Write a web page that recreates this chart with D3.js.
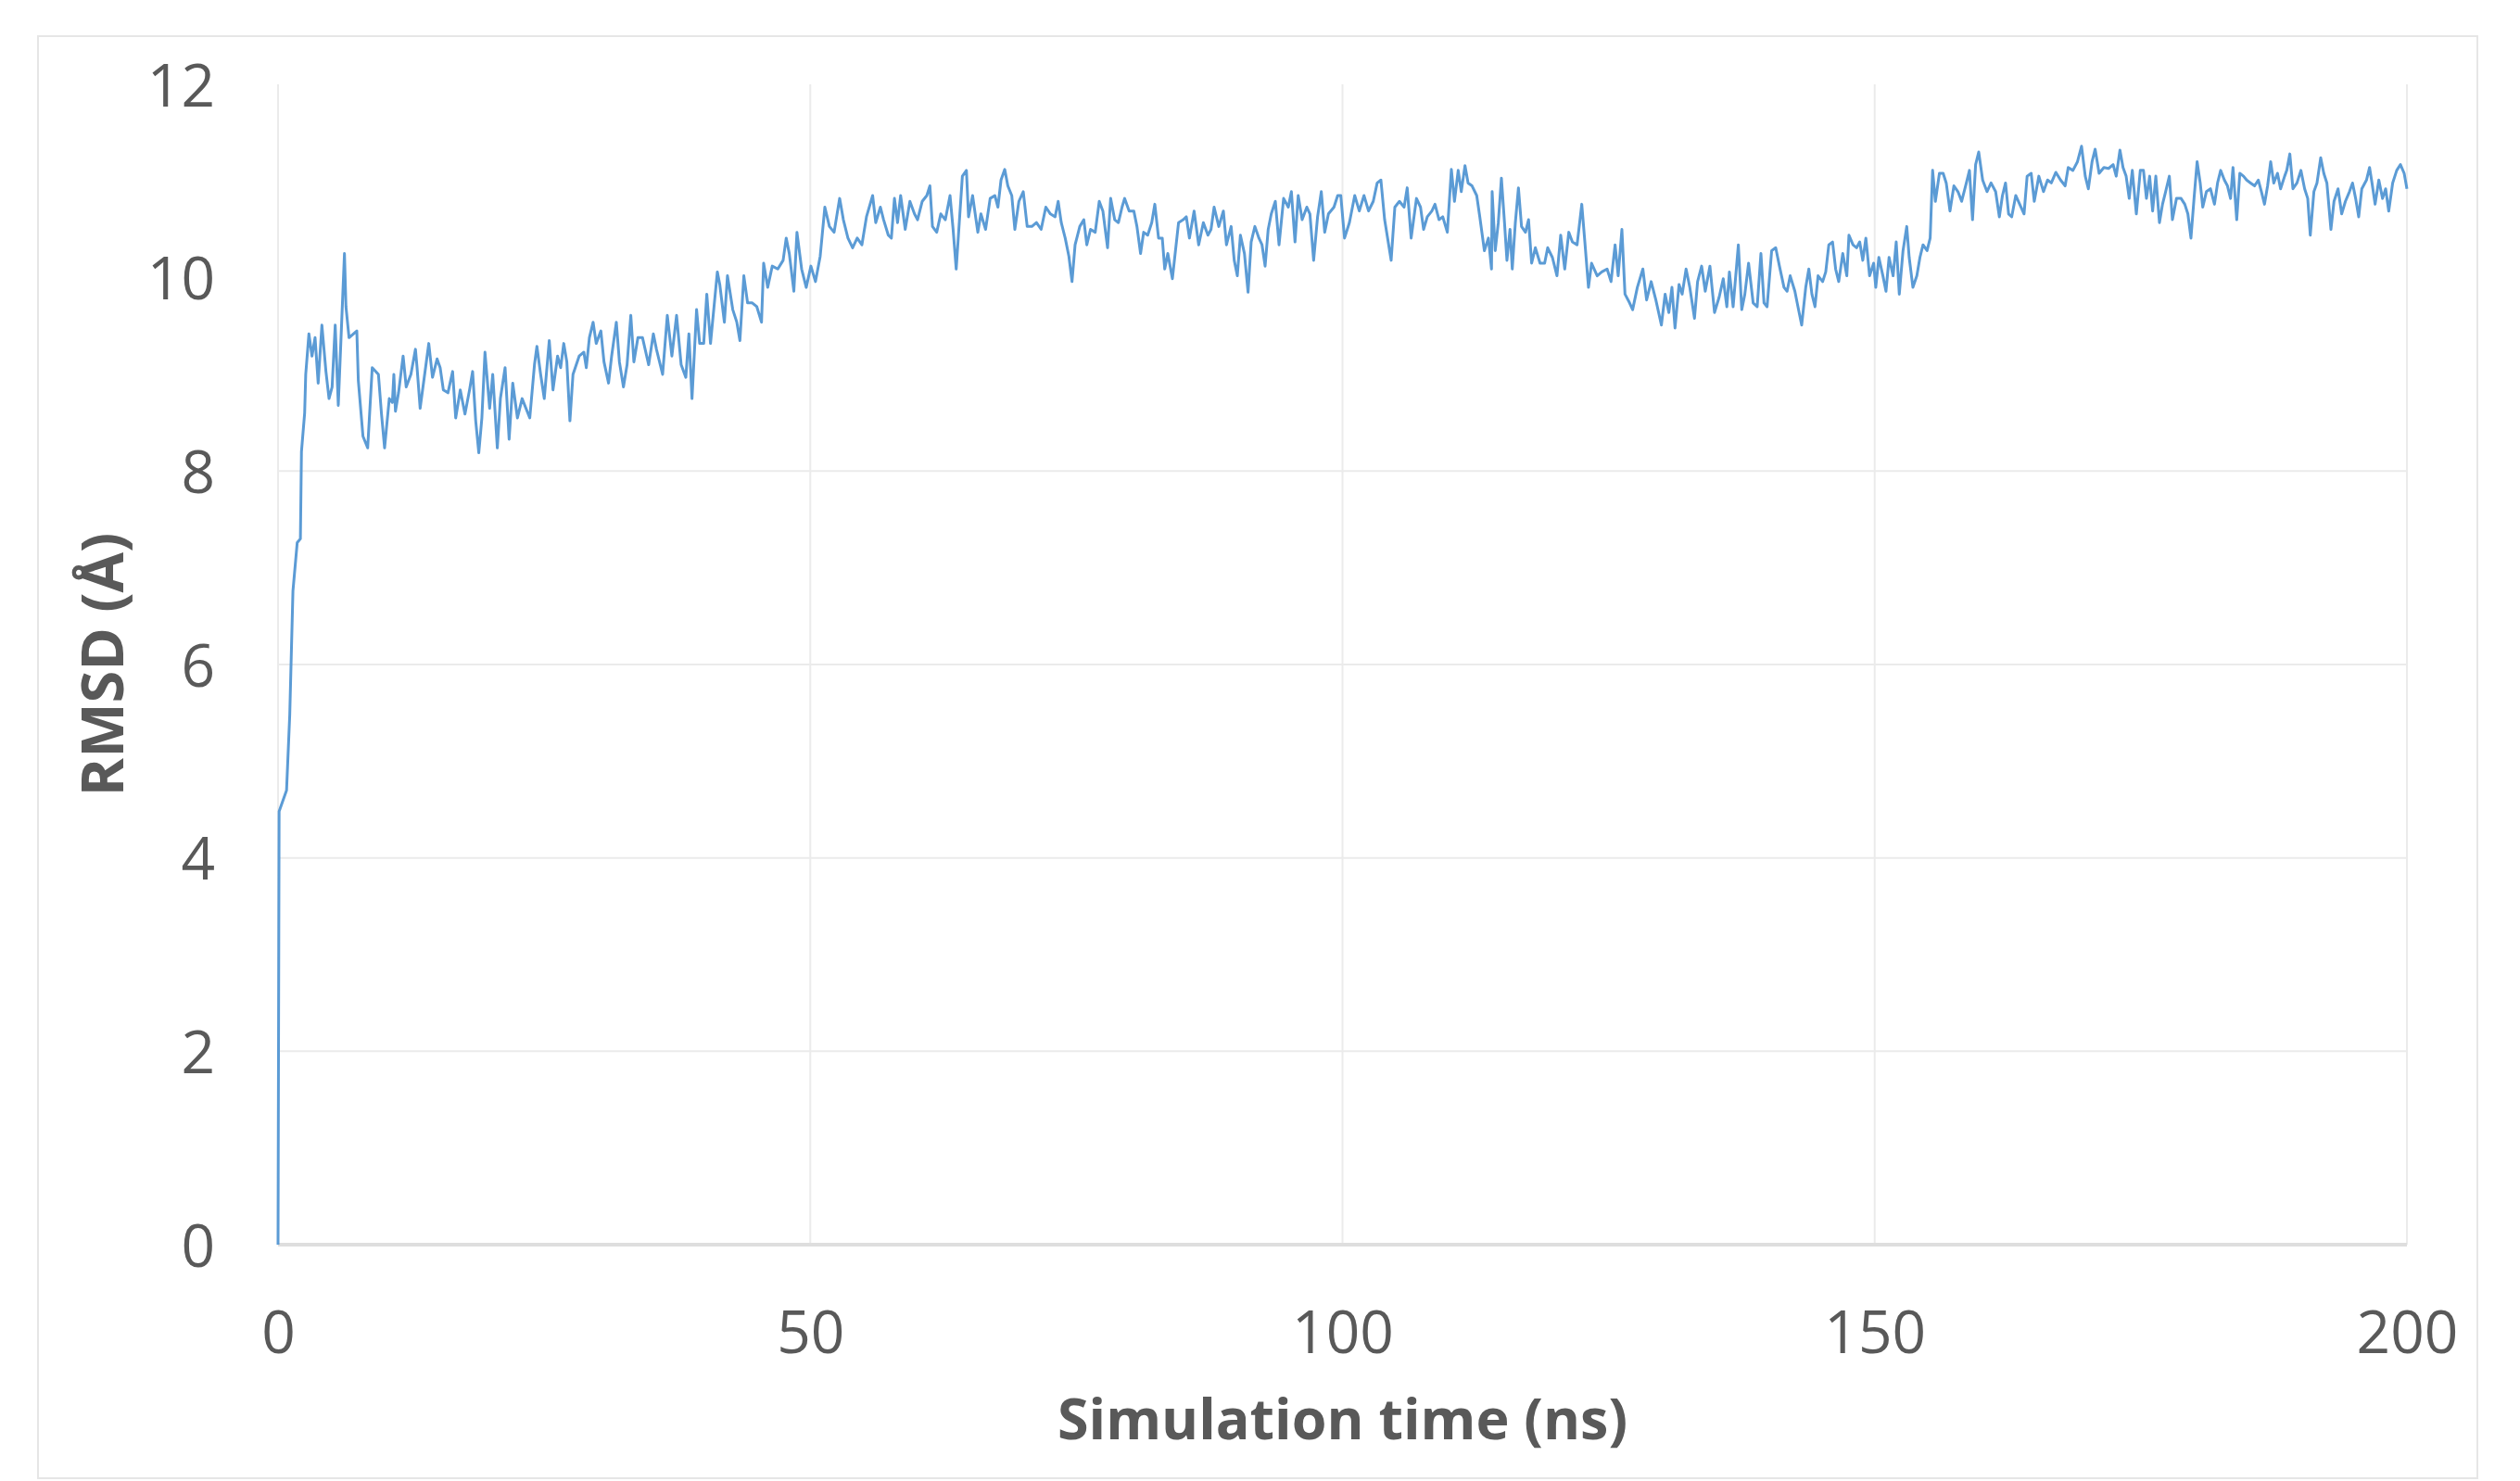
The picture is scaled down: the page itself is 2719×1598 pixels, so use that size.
<!DOCTYPE html>
<html>
<head>
<meta charset="utf-8">
<script src="https://cdn.jsdelivr.net/npm/d3@7"></script>
<style>
  body { margin: 0; background: #fff; }
  svg { display: block; }
  text { font-family: "Open Sans", sans-serif; fill: #595959; }
</style>
</head>
<body>
<div id="chart"></div>
<script>
// axis setup
const xTicks = [0, 50, 100, 150, 200];
const yTicks = [0, 2, 4, 6, 8, 10, 12];
const yGridTicks = [2, 4, 6, 8];   // the reference shows no gridline at 10 and 12
const xTitle = "Simulation time (ns)";
const yTitle = "RMSD (Å)";

// RMSD trace, [time ns, RMSD Å] in chunks
const rmsd0to29 = [[0,0],[0.1,4.48],[0.8,4.7],[1.1,5.48],[1.2,5.91],[1.4,6.76],[1.8,7.26],[2.1,7.3],[2.2,8.2],[2.5,8.6],[2.6,9.0],
  [2.9,9.42],[3.19,9.19],[3.48,9.38],[3.77,8.91],[4.12,9.51],[4.5,9.03],[4.79,8.75],[5.08,8.87],[5.37,9.51],[5.66,8.68],[6.24,10.25],[6.38,9.7],[6.67,9.38],[7.4,9.45],[7.54,8.94],[7.98,8.36],[8.42,8.24],[8.85,9.07],[9.43,9.0],[9.72,8.59],[10.01,8.24],[10.45,8.75],[10.74,8.71],[10.88,9.0],[11.03,8.62],[11.32,8.81],[11.75,9.19],[12.04,8.87],[12.48,9.0],[12.91,9.26],[13.06,9.07],[13.35,8.65],[13.93,9.13],[14.16,9.32],[14.51,8.97],[14.94,9.16],[15.23,9.07],[15.53,8.84],[15.96,8.81],[16.4,9.03],[16.69,8.55],[17.12,8.84],[17.56,8.59],[17.99,8.84],[18.28,9.03],[18.57,8.52],[18.86,8.19],[19.15,8.55],[19.44,9.23],[19.88,8.65],[20.17,9.0],[20.6,8.24],[20.89,8.75],[21.33,9.07],[21.71,8.33],[22.05,8.91],[22.49,8.55],[22.93,8.75],[23.65,8.55],[24.09,9.1],[24.32,9.29],[24.67,9.0],[25.01,8.75],[25.48,9.35],[25.83,8.84],[26.26,9.19],[26.55,9.07],[26.84,9.32],[27.13,9.13],[27.42,8.52],[27.71,9.0],[28.29,9.19],[28.73,9.23]];

const rmsd29to57 = [[28.96,9.07],[29.25,9.38],[29.6,9.54],[29.89,9.32],[30.33,9.45],[30.62,9.13],[31.05,8.91],[31.34,9.19],[31.78,9.54],[32.07,9.13],[32.45,8.87],[32.79,9.1],[33.14,9.61],[33.43,9.13],[33.81,9.38],[34.24,9.38],[34.82,9.1],[35.26,9.42],[35.55,9.26],[36.13,9.0],[36.57,9.61],[37.0,9.19],[37.44,9.61],[37.87,9.1],[38.31,8.97],[38.6,9.42],[38.89,8.75],[39.32,9.67],[39.61,9.32],[39.99,9.32],[40.28,9.83],[40.63,9.32],[41.27,10.06],[41.5,9.93],[41.93,9.54],[42.22,10.02],[42.72,9.67],[43.1,9.54],[43.39,9.35],[43.76,10.02],[44.11,9.74],[44.55,9.74],[44.98,9.7],[45.42,9.54],[45.62,10.15],[46.0,9.9],[46.43,10.12],[46.95,10.09],[47.45,10.18],[47.74,10.41],[48.03,10.25],[48.46,9.86],[48.75,10.47],[49.19,10.09],[49.62,9.9],[50.06,10.12],[50.49,9.96],[50.93,10.22],[51.37,10.73],[51.8,10.53],[52.24,10.47],[52.76,10.82],[53.11,10.6],[53.54,10.41],[53.98,10.31],[54.41,10.41],[54.85,10.34],[55.28,10.63],[55.86,10.85],[56.15,10.57],[56.59,10.73]];

const rmsd57to85 = [[56.89,10.6],[57.33,10.44],[57.62,10.41],[57.91,10.82],[58.2,10.57],[58.49,10.85],[58.92,10.5],[59.36,10.79],[59.79,10.66],[60.08,10.6],[60.52,10.79],[60.95,10.85],[61.24,10.95],[61.48,10.53],[61.88,10.47],[62.26,10.66],[62.69,10.6],[63.13,10.85],[63.42,10.5],[63.71,10.09],[64.0,10.57],[64.29,11.05],[64.67,11.11],[64.87,10.63],[65.25,10.85],[65.74,10.47],[66.03,10.66],[66.47,10.5],[66.9,10.82],[67.34,10.85],[67.63,10.73],[67.92,11.01],[68.27,11.12],[68.56,10.95],[68.93,10.85],[69.22,10.5],[69.6,10.79],[70.01,10.89],[70.38,10.53],[70.82,10.53],[71.25,10.57],[71.69,10.5],[72.13,10.73],[72.56,10.66],[73.0,10.63],[73.29,10.79],[73.58,10.57],[73.95,10.41],[74.3,10.22],[74.59,9.96],[74.88,10.34],[75.32,10.53],[75.7,10.6],[75.98,10.34],[76.33,10.5],[76.77,10.47],[77.15,10.79],[77.49,10.69],[77.93,10.31],[78.22,10.82],[78.6,10.6],[78.95,10.57],[79.29,10.73],[79.53,10.82],[79.96,10.69],[80.4,10.69],[80.69,10.53],[81.03,10.25],[81.32,10.47],[81.7,10.44],[82.08,10.57],[82.37,10.76],[82.72,10.41],[83.07,10.41],[83.3,10.09],[83.59,10.25],[84.02,9.99],[84.31,10.28],[84.6,10.57],[85.04,10.6]];

const rmsd85to114 = [[85.33,10.63],[85.62,10.41],[86.06,10.69],[86.49,10.34],[86.93,10.57],[87.36,10.44],[87.65,10.5],[87.94,10.73],[88.38,10.53],[88.81,10.69],[89.1,10.34],[89.54,10.53],[89.83,10.18],[90.12,10.02],[90.41,10.44],[90.79,10.25],[91.13,9.85],[91.42,10.37],[91.77,10.53],[92.15,10.41],[92.44,10.34],[92.73,10.12],[93.02,10.5],[93.31,10.66],[93.69,10.79],[94.04,10.34],[94.47,10.82],[94.91,10.73],[95.2,10.89],[95.54,10.37],[95.84,10.85],[96.21,10.6],[96.65,10.73],[96.94,10.66],[97.29,10.18],[97.66,10.63],[98.01,10.89],[98.33,10.47],[98.68,10.66],[99.2,10.73],[99.55,10.85],[99.84,10.85],[100.19,10.41],[100.65,10.57],[101.15,10.85],[101.58,10.69],[102.02,10.85],[102.45,10.69],[102.89,10.79],[103.26,10.98],[103.61,11.01],[103.96,10.6],[104.34,10.34],[104.57,10.18],[104.92,10.73],[105.35,10.79],[105.79,10.73],[106.08,10.93],[106.45,10.41],[106.95,10.82],[107.33,10.73],[107.62,10.5],[107.97,10.63],[108.4,10.69],[108.69,10.76],[109.07,10.6],[109.42,10.63],[109.85,10.47],[110.23,11.12],[110.52,10.79],[110.87,11.11],[111.16,10.89],[111.51,11.16],[111.8,10.98],[112.17,10.95],[112.61,10.85],[112.9,10.63],[113.33,10.28],[113.71,10.41],[114.0,10.09]];

const rmsd114to143 = [[114.06,10.89],[114.35,10.28],[114.64,10.57],[114.93,11.03],[115.22,10.57],[115.45,10.18],[115.74,10.5],[115.95,10.09],[116.24,10.57],[116.53,10.93],[116.82,10.53],[117.19,10.47],[117.48,10.6],[117.77,10.15],[118.12,10.31],[118.56,10.15],[118.99,10.15],[119.28,10.31],[119.72,10.21],[120.15,10.02],[120.5,10.44],[120.88,10.09],[121.26,10.47],[121.6,10.37],[122.04,10.34],[122.48,10.76],[122.77,10.37],[123.11,9.9],[123.4,10.15],[123.93,10.02],[124.36,10.06],[124.86,10.09],[125.23,9.96],[125.61,10.34],[125.9,10.02],[126.25,10.5],[126.54,9.83],[126.97,9.74],[127.26,9.67],[127.7,9.9],[128.22,10.09],[128.57,9.77],[129.0,9.96],[129.44,9.77],[129.96,9.51],[130.31,9.83],[130.66,9.64],[130.95,9.9],[131.24,9.48],[131.62,9.93],[131.91,9.83],[132.28,10.09],[132.63,9.9],[133.07,9.58],[133.36,9.96],[133.74,10.12],[134.08,9.86],[134.52,10.12],[134.95,9.64],[135.39,9.8],[135.77,9.99],[136.11,9.7],[136.35,10.06],[136.7,9.7],[137.19,10.34],[137.51,9.67],[137.8,9.83],[138.15,10.15],[138.58,9.74],[138.96,9.7],[139.31,10.25],[139.6,9.74],[139.89,9.7],[140.32,10.28],[140.7,10.31],[141.05,10.12],[141.48,9.9],[141.77,9.86],[142.06,10.02],[142.5,9.86]];

const rmsd143to171 = [[142.79,9.7],[143.14,9.51],[143.52,9.9],[143.81,10.09],[144.1,9.83],[144.39,9.7],[144.68,10.02],[145.11,9.96],[145.4,10.06],[145.69,10.34],[146.04,10.37],[146.33,10.09],[146.62,9.96],[147.0,10.25],[147.38,10.02],[147.58,10.44],[147.96,10.34],[148.3,10.31],[148.59,10.37],[148.88,10.18],[149.17,10.41],[149.52,10.02],[149.9,10.15],[150.1,9.9],[150.39,10.21],[150.77,10.02],[151.06,9.86],[151.35,10.21],[151.73,10.02],[152.02,10.37],[152.31,9.83],[152.66,10.28],[153.01,10.53],[153.24,10.21],[153.59,9.9],[153.96,10.02],[154.25,10.21],[154.54,10.34],[154.92,10.28],[155.21,10.41],[155.44,11.11],[155.7,10.79],[156.08,11.08],[156.43,11.08],[156.72,10.98],[157.07,10.69],[157.44,10.95],[157.82,10.89],[158.17,10.79],[158.61,10.98],[158.9,11.11],[159.19,10.6],[159.48,11.17],[159.77,11.3],[160.14,11.01],[160.55,10.89],[160.93,10.98],[161.36,10.89],[161.71,10.63],[162.0,10.85],[162.29,10.98],[162.58,10.66],[162.87,10.63],[163.25,10.85],[163.62,10.76],[164.03,10.66],[164.32,11.05],[164.7,11.08],[164.99,10.79],[165.42,11.05],[165.86,10.89],[166.24,11.01],[166.59,10.98],[167.02,11.09],[167.46,11.01],[167.89,10.95],[168.18,11.14],[168.62,11.11],[169.05,11.2],[169.43,11.36],[169.78,11.05],[170.07,10.92],[170.42,11.2],[170.71,11.33],[171.08,11.08]];

const rmsd171to200 = [[171.53,11.14],[171.97,11.13],[172.4,11.17],[172.69,11.05],[173.04,11.32],[173.33,11.14],[173.62,11.05],[173.91,10.82],[174.2,11.11],[174.58,10.66],[174.95,11.11],[175.25,11.11],[175.53,10.82],[175.83,11.05],[176.11,10.69],[176.41,11.05],[176.75,10.57],[177.04,10.76],[177.33,10.89],[177.68,11.05],[177.97,10.6],[178.35,10.82],[178.78,10.82],[179.13,10.76],[179.42,10.66],[179.71,10.41],[180.0,10.82],[180.29,11.2],[180.58,10.98],[180.82,10.73],[181.16,10.89],[181.54,10.92],[181.92,10.76],[182.21,10.98],[182.5,11.11],[182.85,11.01],[183.14,10.95],[183.43,10.82],[183.66,11.14],[184.01,10.6],[184.3,11.08],[184.65,11.05],[184.94,11.01],[185.31,10.98],[185.69,10.95],[186.04,11.01],[186.33,10.89],[186.62,10.76],[186.91,10.95],[187.2,11.2],[187.49,10.98],[187.84,11.08],[188.13,10.92],[188.51,11.05],[188.71,11.11],[189.0,11.28],[189.29,10.92],[189.67,10.98],[190.04,11.11],[190.39,10.92],[190.68,10.82],[190.92,10.44],[191.26,10.89],[191.55,10.98],[191.9,11.24],[192.19,11.08],[192.48,10.98],[192.86,10.5],[193.15,10.79],[193.53,10.92],[193.87,10.66],[194.22,10.79],[194.6,10.89],[194.89,10.98],[195.18,10.82],[195.47,10.63],[195.76,10.92],[196.2,11.01],[196.49,11.14],[196.72,10.98],[197.01,10.76],[197.36,11.01],[197.71,10.82],[198.0,10.92],[198.29,10.69],[198.66,10.98],[199.04,11.11],[199.39,11.17],[199.74,11.08],[200.0,10.92]];

const rmsd = [].concat(rmsd0to29, rmsd29to57, rmsd57to85, rmsd85to114,
                       rmsd114to143, rmsd143to171, rmsd171to200);

const width = 2719;
const height = 1598;
const margin = { top: 91, right: 122, bottom: 255, left: 300 };

const svg = d3.select("#chart").append("svg")
    .attr("width", width)
    .attr("height", height);

// light outer frame
svg.append("rect")
    .attr("x", 41).attr("y", 39)
    .attr("width", 2632).attr("height", 1556)
    .attr("fill", "#fff")
    .attr("stroke", "#e6e6e6")
    .attr("stroke-width", 2);

const x = d3.scaleLinear().domain([0, 200]).range([margin.left, width - margin.right]);
const y = d3.scaleLinear().domain([0, 12]).range([height - margin.bottom, margin.top]);

// gridlines
svg.append("g").selectAll("line.vgrid")
    .data(xTicks)
    .join("line")
    .attr("class", "vgrid")
    .attr("x1", d => x(d)).attr("x2", d => x(d))
    .attr("y1", y(12)).attr("y2", y(0))
    .attr("stroke", "#ebebeb")
    .attr("stroke-width", 2);

svg.append("g").selectAll("line.hgrid")
    .data(yGridTicks)
    .join("line")
    .attr("class", "hgrid")
    .attr("x1", x(0)).attr("x2", x(200))
    .attr("y1", d => y(d)).attr("y2", d => y(d))
    .attr("stroke", "#ebebeb")
    .attr("stroke-width", 2);

// bottom axis line
svg.append("line")
    .attr("x1", x(0)).attr("x2", x(200))
    .attr("y1", y(0)).attr("y2", y(0))
    .attr("stroke", "#dedede")
    .attr("stroke-width", 4);

// data line
const line = d3.line()
    .x(d => x(d[0]))
    .y(d => y(d[1]));

svg.append("path")
    .datum(rmsd)
    .attr("fill", "none")
    .attr("stroke", "#5b9bd5")
    .attr("stroke-width", 3)
    .attr("stroke-linejoin", "round")
    .attr("d", line);

// axes (labels only)
const xAxis = svg.append("g")
    .attr("transform", `translate(0,${y(0)})`)
    .call(d3.axisBottom(x).tickValues(xTicks).tickSize(0).tickPadding(72));

const yAxis = svg.append("g")
    .attr("transform", `translate(${x(0)},0)`)
    .call(d3.axisLeft(y).tickValues(yTicks).tickSize(0).tickPadding(68));

[xAxis, yAxis].forEach(g => {
    g.select(".domain").remove();
    g.selectAll("text")
        .attr("font-family", "'Open Sans', sans-serif")
        .style("font-size", "64px")
        .attr("fill", "#595959");
});
yAxis.selectAll("text").attr("dy", "0.36em");

// titles
svg.append("text")
    .attr("x", (x(0) + x(200)) / 2)
    .attr("y", 1553)
    .attr("text-anchor", "middle")
    .style("font-size", "61px")
    .style("font-weight", "bold")
    .text(xTitle);

svg.append("text")
    .attr("transform", `translate(133,717) rotate(-90)`)
    .attr("text-anchor", "middle")
    .style("font-size", "63px")
    .style("font-weight", "bold")
    .text(yTitle);
</script>
</body>
</html>
